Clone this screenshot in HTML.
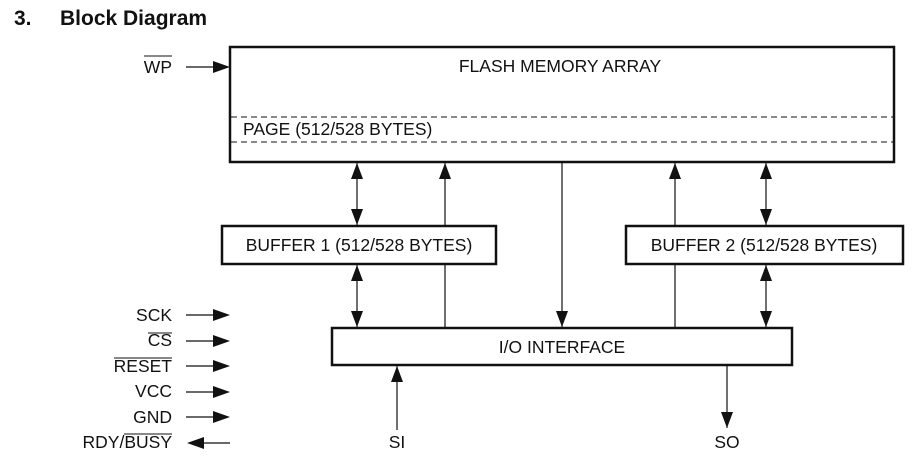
<!DOCTYPE html>
<html><head><style>
body{margin:0;background:#fff;width:920px;height:468px;overflow:hidden}
svg{display:block}
text{font-family:"Liberation Sans",Arial,sans-serif;fill:#111}
</style></head><body>
<svg width="920" height="468" viewBox="0 0 920 468" xmlns="http://www.w3.org/2000/svg">
<text x="14" y="25" font-size="21" font-weight="bold">3.</text>
<text x="60" y="25" font-size="21" font-weight="bold">Block Diagram</text>

<g stroke="#111" fill="none">
<rect x="230" y="47" width="664" height="115" stroke-width="2.5"/>
<line x1="231" y1="117" x2="893" y2="117" stroke-dasharray="6,4" stroke-width="1"/>
<line x1="231" y1="142" x2="893" y2="142" stroke-dasharray="6,4" stroke-width="1"/>
<rect x="222" y="226" width="274" height="38" stroke-width="2.5"/>
<rect x="626" y="226" width="277" height="38" stroke-width="2.5"/>
<rect x="332" y="328" width="460" height="37" stroke-width="2.5"/>
</g>
<g stroke="#111" stroke-width="1.2">
<line x1="186" y1="67" x2="214" y2="67"/>
<line x1="357" y1="163" x2="357" y2="225"/>
<line x1="445" y1="163" x2="445" y2="225"/>
<line x1="445" y1="265" x2="445" y2="328"/>
<line x1="562" y1="162" x2="562" y2="327"/>
<line x1="675" y1="163" x2="675" y2="225"/>
<line x1="675" y1="265" x2="675" y2="328"/>
<line x1="766" y1="163" x2="766" y2="225"/>
<line x1="357" y1="265" x2="357" y2="327"/>
<line x1="766" y1="265" x2="766" y2="327"/>
<line x1="397" y1="366" x2="397" y2="430"/>
<line x1="727" y1="366" x2="727" y2="428"/>
<line x1="186" y1="315" x2="214" y2="315"/>
<line x1="186" y1="341" x2="214" y2="341"/>
<line x1="186" y1="366" x2="214" y2="366"/>
<line x1="186" y1="392" x2="214" y2="392"/>
<line x1="186" y1="417" x2="214" y2="417"/>
<line x1="203" y1="443" x2="230" y2="443"/>
</g>
<g fill="#111">
<polygon points="213,61 230,67 213,73"/>
<polygon points="357,163 351,179 363,179"/>
<polygon points="357,225 351,209 363,209"/>
<polygon points="445,163 439,179 451,179"/>
<polygon points="562,327 556,311 568,311"/>
<polygon points="675,163 669,179 681,179"/>
<polygon points="766,163 760,179 772,179"/>
<polygon points="766,225 760,209 772,209"/>
<polygon points="357,265 351,281 363,281"/>
<polygon points="357,327 351,311 363,311"/>
<polygon points="766,265 760,281 772,281"/>
<polygon points="766,327 760,311 772,311"/>
<polygon points="397,366 391,382 403,382"/>
<polygon points="727,428 721,412 733,412"/>
<polygon points="213,309 230,315 213,321"/>
<polygon points="213,335 230,341 213,347"/>
<polygon points="213,360 230,366 213,372"/>
<polygon points="213,386 230,392 213,398"/>
<polygon points="213,411 230,417 213,423"/>
<polygon points="204,437 187,443 204,449"/>
</g>

<g font-size="17.5">
<text x="560" y="72" text-anchor="middle">FLASH MEMORY ARRAY</text>
<text x="243" y="135">PAGE (512/528 BYTES)</text>
<text x="359" y="251" text-anchor="middle">BUFFER 1 (512/528 BYTES)</text>
<text x="764" y="251" text-anchor="middle">BUFFER 2 (512/528 BYTES)</text>
<text x="562" y="353" text-anchor="middle">I/O INTERFACE</text>
<text x="397" y="448" text-anchor="middle">SI</text>
<text x="727" y="448" text-anchor="middle">SO</text>
<g text-anchor="end">
<text x="172" y="73">WP</text>
<text x="172" y="321">SCK</text>
<text x="172" y="346">CS</text>
<text x="172" y="372">RESET</text>
<text x="172" y="397">VCC</text>
<text x="172" y="423">GND</text>
<text x="172" y="448">RDY/BUSY</text>
</g>
</g>
<g stroke="#111" stroke-width="1">
<line x1="144" y1="56" x2="172" y2="56"/>
<line x1="148" y1="333" x2="172" y2="333"/>
<line x1="114" y1="358" x2="172" y2="358"/>
<line x1="124" y1="434" x2="172" y2="434"/>
</g>
</svg>
</body></html>
